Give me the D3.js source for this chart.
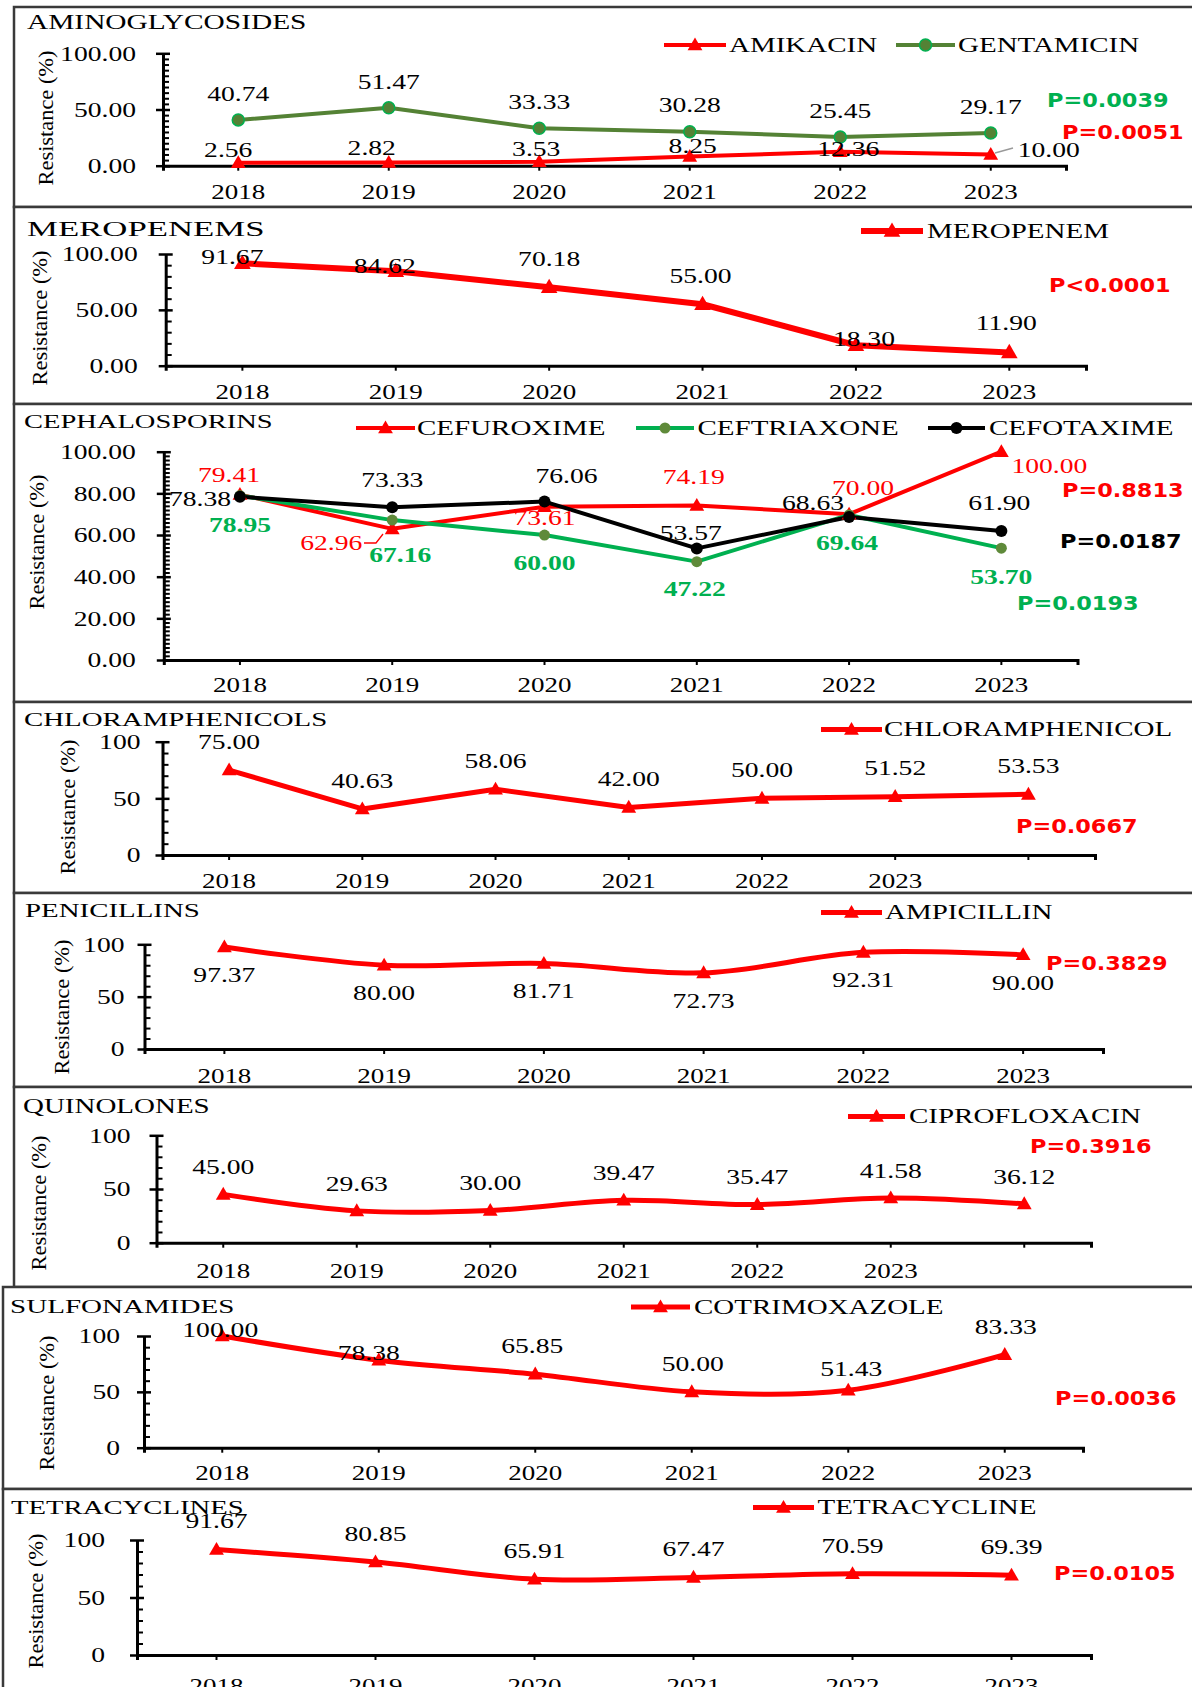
<!DOCTYPE html>
<html>
<head>
<meta charset="utf-8">
<script src="https://cdn.jsdelivr.net/npm/d3@7"></script>
<style>
  body { margin: 0; background: #fff; }
  svg { display: block; }
</style>
</head>
<body>
<svg id="chart" width="1192" height="1687"></svg>
<script>
// Resistance (%) by year, one panel per antibiotic class
const years = ['2018', '2019', '2020', '2021', '2022', '2023'];

const amikacin = [2.56, 2.82, 3.53, 8.25, 12.36, 10.00];
const gentamicin = [40.74, 51.47, 33.33, 30.28, 25.45, 29.17];
const meropenem = [91.67, 84.62, 70.18, 55.00, 18.30, 11.90];
const cefuroxime = [79.41, 62.96, 73.61, 74.19, 70.00, 100.00];
const ceftriaxone = [78.95, 67.16, 60.00, 47.22, 69.64, 53.70];
const cefotaxime = [78.38, 73.33, 76.06, 53.57, 68.63, 61.90];
const chloramphenicol = [75.00, 40.63, 58.06, 42.00, 50.00, 51.52, 53.53];
const ampicillin = [97.37, 80.00, 81.71, 72.73, 92.31, 90.00];
const ciprofloxacin = [45.00, 29.63, 30.00, 39.47, 35.47, 41.58, 36.12];
const cotrimoxazole = [100.00, 78.38, 65.85, 50.00, 51.43, 83.33];
const tetracycline = [91.67, 80.85, 65.91, 67.47, 70.59, 69.39];

const RED = '#ff0000';
const GREEN = '#00b050';
const OLIVE = '#548235';
const SERIF = '"Liberation Serif", "Times New Roman", serif';
const SANS = '"DejaVu Sans", Verdana, sans-serif';

const svg = d3.select('#chart');

// text with its vertical centre at cy, stretched horizontally by sx
function txt(g, x, cy, str, o = {}) {
  const fs = o.size || 20;
  const sx = o.sx || 1.38;
  return g.append('text')
    .attr('transform', `translate(${x},${cy + 0.34 * fs}) scale(${sx},1)`)
    .attr('text-anchor', o.anchor || 'middle')
    .attr('font-family', o.family || SERIF)
    .attr('font-size', fs)
    .attr('font-weight', o.weight || 'normal')
    .attr('fill', o.color || '#000')
    .text(str);
}

function marker(g, s, x, y) {
  if (s.marker === 'tri') {
    g.append('path')
      .attr('d', d3.symbol(d3.symbolTriangle, s.msize || 95)())
      .attr('transform', `translate(${x},${y + 1})`)
      .attr('fill', s.color);
  } else {
    g.append('circle')
      .attr('cx', x).attr('cy', y).attr('r', s.r || 6)
      .attr('fill', s.mfill || s.color)
      .attr('stroke', s.mstroke || 'none')
      .attr('stroke-width', 1.5);
  }
}

const panels = [
  {
    title: 'AMINOGLYCOSIDES', fx: 14, fy0: 7, fy1: 207, tx: 27, ty: 22, tsize: 21, tsx: 1.4,
    ax: 163, ax1: 1066, y0: 165.7, y100: 53.3, n: 6, major: 50, minor: 5, fmt: '.2f',
    tickOff: 27, yearY: 192, ylab: [46, 118],
    series: [
      { name: 'GENTAMICIN', values: gentamicin, color: OLIVE, marker: 'dot', mfill: OLIVE, mstroke: GREEN,
        width: 4, legend: [896, 955, 45, 958], ldy: -26 },
      { name: 'AMIKACIN', values: amikacin, color: RED, marker: 'tri', width: 4,
        legend: [664, 726, 45, 729],
        offsets: [[-10, -13], [-17, -14], [-3, -13], [3, -10], [8, -3], [58, -4]] }
    ],
    pvals: [
      { text: 'P=0.0039', color: GREEN, x: 1047, y: 100 },
      { text: 'P=0.0051', color: RED, x: 1062, y: 132 }
    ],
    leaders: [{ pts: [[995, 153], [1013, 148]], color: '#999' }]
  },
  {
    title: 'MEROPENEMS', fx: 14, fy0: 207, fy1: 404, tx: 27, ty: 229, tsize: 22, tsx: 1.58,
    ax: 165.7, ax1: 1086, y0: 365.7, y100: 254, n: 6, major: 50, minor: 10, fmt: '.2f',
    tickOff: 28, yearY: 392, ylab: [40, 318],
    series: [
      { name: 'MEROPENEM', values: meropenem, color: RED, marker: 'tri', msize: 120, width: 6,
        legend: [861, 923, 231, 927],
        offsets: [[-10, -6], [-11, -5], [0, -28], [-2, -28], [8, -6], [-3, -29]] }
    ],
    pvals: [{ text: 'P<0.0001', color: RED, x: 1049, y: 285 }]
  },
  {
    title: 'CEPHALOSPORINS', fx: 14, fy0: 404, fy1: 702, tx: 24, ty: 422, tsize: 19, tsx: 1.5,
    ax: 163.8, ax1: 1077.5, y0: 660, y100: 451.7, n: 6, major: 20, minor: 2, fmt: '.2f',
    tickOff: 28, yearY: 685, ylab: [37, 542],
    series: [
      { name: 'CEFUROXIME', values: cefuroxime, color: RED, marker: 'tri', width: 4,
        legend: [356, 415, 428, 417], lcolor: RED,
        offsets: [[-11, -19], [-61, 14], [0, 12], [-3, -28], [14, -26], [48, 14]] },
      { name: 'CEFTRIAXONE', values: ceftriaxone, color: GREEN, marker: 'dot', mfill: '#5f8a3a', r: 5.5,
        width: 4, legend: [636, 694, 428, 697.5], lcolor: GREEN, lweight: 'bold',
        offsets: [[0, 30], [8, 35], [0, 28], [-2, 28], [-2, 28], [0, 29]] },
      { name: 'CEFOTAXIME', values: cefotaxime, color: '#000', marker: 'dot', r: 6, width: 4,
        legend: [928, 985, 428, 989],
        offsets: [[-40, 2], [0, -27], [22, -25], [-6, -15], [-36, -14], [-2, -28]] }
    ],
    pvals: [
      { text: 'P=0.8813', color: RED, x: 1062, y: 490 },
      { text: 'P=0.0187', color: '#000', x: 1060, y: 541 },
      { text: 'P=0.0193', color: GREEN, x: 1017, y: 603 }
    ],
    leaders: [{ pts: [[364, 543], [376, 543], [383, 534]], color: RED }]
  },
  {
    title: 'CHLORAMPHENICOLS', fx: 14, fy0: 702, fy1: 893, tx: 24, ty: 720, tsize: 19, tsx: 1.52,
    ax: 162.5, ax1: 1095, y0: 855, y100: 741.7, n: 7, major: 50, minor: 10, fmt: 'd',
    tickOff: 22, yearY: 881.5, ylab: [68, 807],
    series: [
      { name: 'CHLORAMPHENICOL', values: chloramphenicol, color: RED, marker: 'tri', width: 5,
        legend: [821, 882, 729.5, 884], ldy: -28 }
    ],
    pvals: [{ text: 'P=0.0667', color: RED, x: 1016, y: 826 }]
  },
  {
    title: 'PENICILLINS', fx: 14, fy0: 893, fy1: 1087, tx: 25, ty: 911, tsize: 19, tsx: 1.52,
    ax: 144.5, ax1: 1103, y0: 1049, y100: 944.3, n: 6, major: 50, minor: 10, fmt: 'd',
    tickOff: 20, yearY: 1076, ylab: [62, 1007], smooth: true,
    series: [
      { name: 'AMPICILLIN', values: ampicillin, color: RED, marker: 'tri', width: 5,
        legend: [821, 882, 912.5, 885], ldy: 28 }
    ],
    pvals: [{ text: 'P=0.3829', color: RED, x: 1046, y: 963 }]
  },
  {
    title: 'QUINOLONES', fx: 14, fy0: 1087, fy1: 1287, tx: 23, ty: 1106, tsize: 20, tsx: 1.45,
    ax: 156.5, ax1: 1091, y0: 1242.7, y100: 1135.3, n: 7, major: 50, minor: 10, fmt: 'd',
    tickOff: 26, yearY: 1271, ylab: [39, 1203], smooth: true,
    series: [
      { name: 'CIPROFLOXACIN', values: ciprofloxacin, color: RED, marker: 'tri', width: 5,
        legend: [848, 905, 1116.5, 909], ldy: -27 }
    ],
    pvals: [{ text: 'P=0.3916', color: RED, x: 1030, y: 1146 }]
  },
  {
    title: 'SULFONAMIDES', fx: 3, fy0: 1287, fy1: 1489, tx: 10, ty: 1306.5, tsize: 19, tsx: 1.53,
    ax: 144, ax1: 1083, y0: 1447.7, y100: 1336, n: 6, major: 50, minor: 10, fmt: 'd',
    tickOff: 24, yearY: 1473, ylab: [47, 1403], smooth: true,
    series: [
      { name: 'COTRIMOXAZOLE', values: cotrimoxazole, color: RED, marker: 'tri', width: 5,
        legend: [631, 690, 1307, 694],
        offsets: [[-2, -6], [-10, -7], [-3, -28], [1, -28], [3, -21], [1, -27]] }
    ],
    pvals: [{ text: 'P=0.0036', color: RED, x: 1055, y: 1398.5 }]
  },
  {
    title: 'TETRACYCLINES', fx: 3, fy0: 1489, fy1: 1720, tx: 11, ty: 1507.5, tsize: 19, tsx: 1.51,
    ax: 137, ax1: 1091, y0: 1655, y100: 1540, n: 6, major: 50, minor: 10, fmt: 'd',
    tickOff: 32, yearY: 1686, ylab: [36, 1601], smooth: true,
    series: [
      { name: 'TETRACYCLINE', values: tetracycline, color: RED, marker: 'tri', width: 5,
        legend: [753, 814, 1507.5, 817.5], ldy: -28 }
    ],
    pvals: [{ text: 'P=0.0105', color: RED, x: 1054, y: 1573 }]
  }
];

const valFmt = d3.format('.2f');

panels.forEach(p => {
  const g = svg.append('g');

  // panel frame
  g.append('rect')
    .attr('x', p.fx).attr('y', p.fy0)
    .attr('width', 1230 - p.fx).attr('height', p.fy1 - p.fy0)
    .attr('fill', '#fff').attr('stroke', '#3a3a3a').attr('stroke-width', 2.5);

  const xb = d3.scaleBand().domain(d3.range(p.n)).range([p.ax, p.ax1]);
  const xc = i => xb(i) + xb.bandwidth() / 2;
  const y = d3.scaleLinear().domain([0, 100]).range([p.y0, p.y100]);

  // minor ticks (inside)
  const minorVals = d3.range(0, 100.001, p.minor).filter(v => Math.abs(v % p.major) > 1e-6);
  const gm = g.append('g')
    .attr('transform', `translate(${p.ax},0)`)
    .call(d3.axisLeft(y).tickValues(minorVals).tickSize(-6).tickFormat(''));
  gm.select('.domain').remove();
  gm.selectAll('line').attr('stroke', '#000').attr('stroke-width', 2);

  // major ticks (cross)
  const gy = g.append('g')
    .attr('transform', `translate(${p.ax},0)`)
    .call(d3.axisLeft(y).tickValues(d3.range(0, 100.001, p.major))
      .tickSize(7).tickSizeOuter(0).tickFormat(d3.format(p.fmt)));
  gy.select('.domain').attr('stroke', '#000').attr('stroke-width', 3);
  gy.selectAll('.tick line').attr('x1', 7).attr('stroke', '#000').attr('stroke-width', 2.5);
  gy.selectAll('.tick text')
    .attr('x', null).attr('dy', null)
    .attr('transform', `translate(${-p.tickOff},${0.34 * 20}) scale(1.38,1)`)
    .attr('font-size', 20).attr('font-family', SERIF)
    .attr('fill', '#000').attr('text-anchor', 'end');

  // category axis
  const gx = g.append('g')
    .attr('transform', `translate(0,${p.y0})`)
    .call(d3.axisBottom(xb).tickSize(5).tickSizeOuter(5).tickFormat(i => years[i] || ''));
  gx.select('.domain').attr('stroke', '#000').attr('stroke-width', 3);
  gx.selectAll('.tick line').attr('stroke', '#000').attr('stroke-width', 2);
  gx.selectAll('.tick text')
    .attr('y', null).attr('dy', null)
    .attr('transform', `translate(0,${p.yearY - p.y0 + 0.34 * 20}) scale(1.35,1)`)
    .attr('font-size', 20).attr('font-family', SERIF).attr('fill', '#000');

  // lines
  const line = d3.line()
    .x((d, i) => xc(i))
    .y(d => y(d))
    .curve(p.smooth ? d3.curveCatmullRom : d3.curveLinear);
  p.series.forEach(s => {
    g.append('path').datum(s.values)
      .attr('d', line)
      .attr('fill', 'none')
      .attr('stroke', s.color)
      .attr('stroke-width', s.width)
      .attr('stroke-linejoin', 'round');
  });

  // markers
  p.series.forEach(s => {
    s.values.forEach((v, i) => marker(g, s, xc(i), y(v)));
  });

  // leader lines
  (p.leaders || []).forEach(l => {
    g.append('path').attr('d', d3.line()(l.pts))
      .attr('fill', 'none').attr('stroke', l.color).attr('stroke-width', 1.3);
  });

  // value labels
  p.series.forEach(s => {
    s.values.forEach((v, i) => {
      const [dx, dy] = s.offsets ? s.offsets[i] : [0, s.ldy];
      txt(g, xc(i) + dx, y(v) + dy, valFmt(v), {
        color: s.lcolor || '#000', weight: s.lweight || 'normal'
      });
    });
  });

  // legend
  p.series.forEach(s => {
    const [x1, x2, ly, tx] = s.legend;
    g.append('line')
      .attr('x1', x1).attr('x2', x2).attr('y1', ly).attr('y2', ly)
      .attr('stroke', s.color).attr('stroke-width', s.width);
    marker(g, s, (x1 + x2) / 2, ly);
    txt(g, tx, ly, s.name, { anchor: 'start', sx: 1.45 });
  });

  // p-values
  p.pvals.forEach(pv => {
    txt(g, pv.x, pv.y, pv.text, {
      anchor: 'start', family: SANS, weight: 'bold', size: 20, sx: 1.12, color: pv.color
    });
  });

  // y axis title
  g.append('text')
    .attr('transform', `translate(${p.ylab[0] + 0.34 * 20},${p.ylab[1]}) rotate(-90) scale(1.12,1)`)
    .attr('text-anchor', 'middle')
    .attr('font-family', SERIF)
    .attr('font-size', 20)
    .text('Resistance (%)');

  // panel title
  txt(g, p.tx, p.ty, p.title, { anchor: 'start', size: p.tsize, sx: p.tsx });
});
</script>
</body>
</html>
